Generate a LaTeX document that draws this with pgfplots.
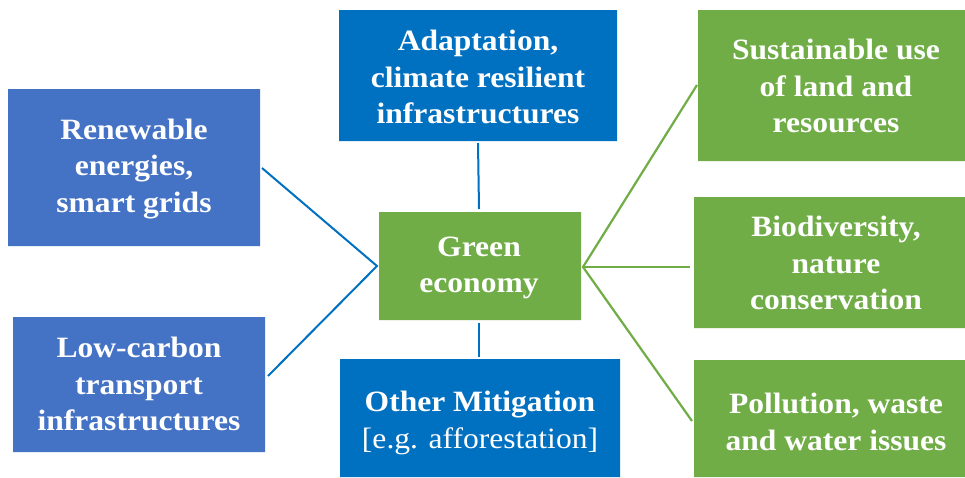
\documentclass[border=0pt]{standalone}
\usepackage{pgfplots}
\pgfplotsset{compat=1.18}
\usepackage{fontspec}
\setmainfont{Liberation Serif}
\newfontfamily\tnr{Liberation Serif}[FakeStretch=1.07]
\definecolor{lblue}{HTML}{4472C4}
\definecolor{dblue}{HTML}{0070C0}
\definecolor{gr}{HTML}{70AD47}
\begin{document}
\begin{tikzpicture}[lbl/.style={text=white, align=center, font={\tnr\fontsize{29.5}{36.7}\selectfont\bfseries}}]
\begin{axis}[
  width=965pt, height=477pt, scale only axis,
  xmin=0, xmax=965, ymin=0, ymax=477, y dir=reverse,
  hide axis, clip=false,
]
% background frame (fixes the picture size)
\addplot[fill=white, draw=none] coordinates {(0,0) (965,0) (965,477) (0,477) (0,0)};
% boxes
\addplot[fill=lblue, draw=none] coordinates {(8,89) (260,89) (260,246) (8,246) (8,89)};
\addplot[fill=lblue, draw=none] coordinates {(13,317) (265,317) (265,452) (13,452) (13,317)};
\addplot[fill=dblue, draw=none] coordinates {(339,10) (617,10) (617,141) (339,141) (339,10)};
\addplot[fill=dblue, draw=none] coordinates {(340,359) (620,359) (620,477) (340,477) (340,359)};
\addplot[fill=gr, draw=none] coordinates {(379,212) (581,212) (581,320) (379,320) (379,212)};
\addplot[fill=gr, draw=none] coordinates {(698,10) (965,10) (965,161) (698,161) (698,10)};
\addplot[fill=gr, draw=none] coordinates {(694,197) (965,197) (965,328) (694,328) (694,197)};
\addplot[fill=gr, draw=none] coordinates {(694,360) (965,360) (965,477) (694,477) (694,360)};
% connectors
\addplot[dblue, line width=2pt] coordinates {(262,168) (377,266) (268,376)};
\addplot[dblue, line width=2pt] coordinates {(478,143) (479,209)};
\addplot[dblue, line width=2pt] coordinates {(479,323) (479,357)};
\addplot[gr, line width=2.2pt] coordinates {(697,85) (583,267) (692,421)};
\addplot[gr, line width=2.2pt] coordinates {(583,267) (690,267)};
% labels
\node[lbl] at (axis cs:134,169) {Renewable\\energies,\\smart grids};
\node[lbl] at (axis cs:139,384) {Low-carbon\\transport\\infrastructures};
\node[lbl] at (axis cs:478,77) {Adaptation,\\climate resilient\\infrastructures};
\node[lbl] at (axis cs:479,268) {Green\\economy};
\node[lbl] at (axis cs:480,423) {Other Mitigation\\\mdseries [e.g. afforestation]};
\node[lbl] at (axis cs:836,86) {Sustainable use\\of land and\\resources};
\node[lbl] at (axis cs:836,263) {Biodiversity,\\nature\\conservation};
\node[lbl] at (axis cs:836,422) {Pollution, waste\\and water issues};
\end{axis}
\end{tikzpicture}
\end{document}
